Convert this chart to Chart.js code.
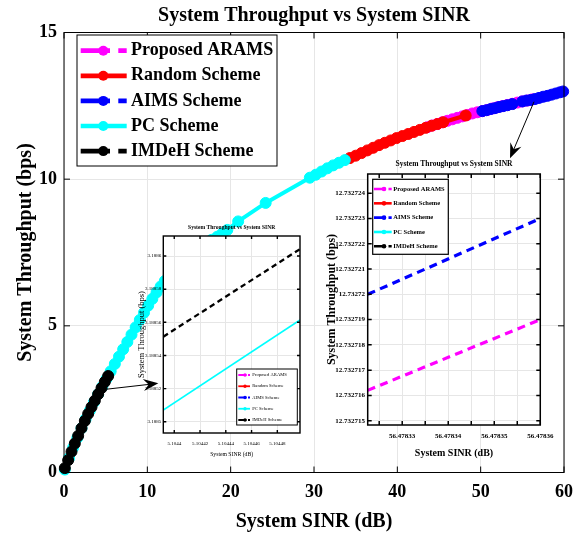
<!DOCTYPE html>
<html>
<head>
<meta charset="utf-8">
<title>System Throughput vs System SINR</title>
<script src="https://cdn.jsdelivr.net/npm/chart.js@4.4.1/dist/chart.umd.min.js"></script>
<style>
  html, body { margin: 0; padding: 0; background: #fff; }
  #wrap { position: relative; width: 582px; height: 538px; overflow: hidden; }
  #wrap canvas { position: absolute; }
</style>
</head>
<body>
<div id="wrap">
  <canvas id="main" width="582" height="538" style="left:0;top:0"></canvas>
  <canvas id="zoomLow" width="178" height="244" style="left:132px;top:219px"></canvas>
  <canvas id="zoomHigh" width="242" height="309" style="left:318px;top:154px"></canvas>
</div>
<script>
// ---------- full-range curves (SINR in dB, throughput in bps) ----------
const aramsSinr  = [43.6, 44.2, 44.8, 45.4, 46.0, 46.6, 47.2, 47.8, 48.4, 49.0, 49.6, 50.2, 50.8, 51.4, 52.0, 52.6, 53.2, 53.8, 54.4, 55.0, 55.6, 56.2];
const aramsTput  = [11.77, 11.83, 11.88, 11.94, 11.99, 12.04, 12.09, 12.14, 12.19, 12.24, 12.28, 12.32, 12.36, 12.41, 12.45, 12.49, 12.53, 12.57, 12.61, 12.65, 12.68, 12.72];

const randomSinr = [34.3, 35.0, 35.7, 36.4, 37.1, 37.8, 38.5, 39.2, 39.9, 40.6, 41.3, 42.0, 42.7, 43.4, 44.1, 44.8, 45.5, 48.2];
const randomTput = [10.72, 10.80, 10.89, 10.98, 11.07, 11.16, 11.24, 11.32, 11.40, 11.47, 11.54, 11.61, 11.68, 11.75, 11.82, 11.88, 11.94, 12.17];

const aimsSinr   = [50.2, 50.7, 51.2, 51.7, 52.2, 52.7, 53.2, 53.8, 55.0, 55.5, 56.0, 56.5, 57.0, 57.5, 58.0, 58.5, 59.0, 59.5, 59.9];
const aimsTput   = [12.32, 12.35, 12.39, 12.42, 12.46, 12.49, 12.52, 12.56, 12.65, 12.68, 12.70, 12.73, 12.77, 12.81, 12.84, 12.88, 12.92, 12.96, 12.99];

const pcSinr     = [0.1, 0.6, 1.1, 1.6, 2.1, 2.6, 3.1, 3.6, 4.1, 4.6, 5.1, 5.6, 6.1, 6.6, 7.1, 7.6, 8.1, 8.6, 9.1, 9.6, 10.1, 10.6, 11.1, 11.6, 12.1, 12.8, 13.5, 14.2, 14.9, 15.6, 16.3, 17.0, 17.7, 18.4, 19.0, 19.6, 20.9, 24.2, 29.5, 30.2, 30.9, 31.6, 32.3, 33.0, 33.7];
const pcTput     = [0.10, 0.49, 0.85, 1.18, 1.51, 1.82, 2.11, 2.40, 2.67, 2.93, 3.19, 3.45, 3.70, 3.95, 4.20, 4.45, 4.70, 4.95, 5.20, 5.45, 5.69, 5.92, 6.14, 6.34, 6.53, 6.78, 7.01, 7.21, 7.38, 7.54, 7.68, 7.81, 7.93, 8.04, 8.15, 8.27, 8.56, 9.19, 10.05, 10.15, 10.26, 10.37, 10.47, 10.56, 10.65];

const imdehSinr  = [0.1, 0.5, 0.9, 1.3, 1.7, 2.1, 2.5, 2.9, 3.3, 3.7, 4.1, 4.5, 4.9, 5.3];
const imdehTput  = [0.15, 0.42, 0.71, 0.99, 1.25, 1.51, 1.76, 2.00, 2.23, 2.45, 2.67, 2.88, 3.09, 3.29];

const mainSinrTicks = [0, 10, 20, 30, 40, 50, 60];
const mainTputTicks = [0, 5, 10, 15];

// callout arrows on the main axes: [SINR, throughput] tail and head
const arrowTail = [[5.12, 2.84], [56.4, 12.64]];
const arrowHead = [[11.32, 3.04], [53.52, 10.71]];

// ---------- magnified view around 5.1044 dB ----------
const lowSinr       = [5.1043915, 5.1044976];
const lowPcTput     = [3.1885071, 3.1885614];
const lowImdehTput  = [3.1885513, 3.1886042];
const lowSinrTicks  = [5.10440, 5.10442, 5.10444, 5.10446, 5.10448];
const lowSinrLabels = ['5.1044', '5.10442', '5.10444', '5.10446', '5.10448'];
const lowTputTicks  = [3.18850, 3.18852, 3.18854, 3.18856, 3.18858, 3.18860];
const lowTputLabels = ['3.1885', '3.18852', '3.18854', '3.18856', '3.18858', '3.1886'];

// ---------- magnified view around 56.4783 dB ----------
const highSinr       = [56.4783225, 56.47836];
const highAramsTput  = [12.7327162, 12.7327190];
const highAimsTput   = [12.7327200, 12.7327230];
const highSinrTicks  = [56.478325, 56.47833, 56.478335, 56.47834, 56.478345, 56.47835, 56.478355, 56.47836];
const highSinrLabels = ['', '56.47833', '', '56.47834', '', '56.47835', '', '56.47836'];
const highTputTicks  = [12.732715, 12.732716, 12.732717, 12.732718, 12.732719, 12.73272, 12.732721, 12.732722, 12.732723, 12.732724];
const highTputLabels = ['12.732715', '12.732716', '12.732717', '12.732718', '12.732719', '12.73272', '12.732721', '12.732722', '12.732723', '12.732724'];

// ---------- shared styling ----------
const SERIF = "'Liberation Serif', 'Times New Roman', Times, serif";
Chart.defaults.font.family = SERIF;
Chart.defaults.color = '#000';

const COLORS = { arams: '#ff00ff', random: '#ff0000', aims: '#0000ff', pc: '#00ffff', imdeh: '#000000' };
const TITLE = 'System Throughput vs System SINR';

const pts = (xs, ys) => xs.map((x, i) => ({ x, y: ys[i] }));

// white plot box, black frame and inward tick marks
function plotFrame(tickLen, frameW) {
  return {
    id: 'plotFrame',
    beforeDraw(chart) {
      const { ctx, chartArea: a } = chart;
      ctx.save();
      ctx.fillStyle = '#fff';
      ctx.fillRect(a.left, a.top, a.right - a.left, a.bottom - a.top);
      ctx.restore();
    },
    afterDatasetsDraw(chart) {
      const { ctx, chartArea: a, scales: { x, y } } = chart;
      ctx.save();
      ctx.strokeStyle = '#000';
      ctx.lineWidth = frameW;
      ctx.beginPath();
      x.ticks.forEach(t => {
        const p = x.getPixelForValue(t.value);
        ctx.moveTo(p, a.bottom); ctx.lineTo(p, a.bottom - tickLen);
        ctx.moveTo(p, a.top); ctx.lineTo(p, a.top + tickLen);
      });
      y.ticks.forEach(t => {
        const p = y.getPixelForValue(t.value);
        ctx.moveTo(a.left, p); ctx.lineTo(a.left + tickLen, p);
        ctx.moveTo(a.right, p); ctx.lineTo(a.right - tickLen, p);
      });
      ctx.stroke();
      ctx.strokeRect(a.left, a.top, a.right - a.left, a.bottom - a.top);
      ctx.restore();
    }
  };
}

// boxed legend listing every dataset with its line sample and marker
function boxLegend(cfg) {
  return {
    id: 'boxLegend',
    afterDraw(chart) {
      const c = chart.ctx;
      c.save();
      c.fillStyle = '#fff';
      c.fillRect(cfg.x, cfg.y, cfg.w, cfg.h);
      c.strokeStyle = '#000';
      c.lineWidth = cfg.frame;
      c.strokeRect(cfg.x, cfg.y, cfg.w, cfg.h);
      chart.data.datasets.forEach((ds, i) => {
        const yy = cfg.row0 + i * cfg.rowGap;
        c.strokeStyle = ds.borderColor;
        c.lineWidth = cfg.lineW;
        c.lineCap = 'butt';
        c.beginPath();
        if (ds.borderDash && ds.borderDash.length) {
          c.moveTo(cfg.s0, yy); c.lineTo(cfg.d0, yy);
          c.moveTo(cfg.d1, yy); c.lineTo(cfg.s1, yy);
        } else {
          c.moveTo(cfg.s0, yy); c.lineTo(cfg.s1, yy);
        }
        c.stroke();
        c.fillStyle = ds.borderColor;
        c.beginPath();
        c.arc(cfg.mx, yy, cfg.r, 0, Math.PI * 2);
        c.fill();
        c.fillStyle = '#000';
        c.font = cfg.font;
        c.textAlign = 'left';
        c.textBaseline = 'middle';
        c.fillText(ds.label, cfg.tx, yy);
      });
      c.restore();
    }
  };
}

// arrows pointing from the curve towards the magnified views
const calloutArrows = {
  id: 'calloutArrows',
  afterDraw(chart) {
    const { ctx, scales: { x, y } } = chart;
    ctx.save();
    ctx.strokeStyle = '#000';
    ctx.fillStyle = '#000';
    ctx.lineWidth = 1;
    arrowTail.forEach((t, i) => {
      const h = arrowHead[i];
      const x0 = x.getPixelForValue(t[0]), y0 = y.getPixelForValue(t[1]);
      const x1 = x.getPixelForValue(h[0]), y1 = y.getPixelForValue(h[1]);
      const len = Math.hypot(x1 - x0, y1 - y0);
      const ux = (x1 - x0) / len, uy = (y1 - y0) / len;
      const nx = -uy, ny = ux;
      const L = 15, W = 6;
      ctx.beginPath();
      ctx.moveTo(x0, y0);
      ctx.lineTo(x1 - ux * L * 0.6, y1 - uy * L * 0.6);
      ctx.stroke();
      ctx.beginPath();
      ctx.moveTo(x1, y1);
      ctx.lineTo(x1 - ux * L + nx * W, y1 - uy * L + ny * W);
      ctx.lineTo(x1 - ux * L * 0.65, y1 - uy * L * 0.65);
      ctx.lineTo(x1 - ux * L - nx * W, y1 - uy * L - ny * W);
      ctx.closePath();
      ctx.fill();
    });
    ctx.restore();
  }
};

function linearAxis(o) {
  return {
    type: 'linear',
    min: o.min,
    max: o.max,
    afterBuildTicks: s => { s.ticks = o.ticks.map(v => ({ value: v })); },
    ticks: {
      autoSkip: false,
      maxRotation: 0,
      padding: o.tickPad,
      font: { size: o.tickSize, weight: o.weight },
      callback: (v, i) => o.labels[i]
    },
    grid: { color: '#e6e6e6', lineWidth: 1, drawTicks: false },
    border: { display: false },
    title: {
      display: true,
      text: o.title,
      font: { size: o.titleSize, weight: o.titleWeight || o.weight },
      padding: o.titlePad
    },
    afterFit: o.fit
  };
}

// ---------- main figure ----------
function mainSeries(label, xs, ys, color, dashed, order) {
  return {
    label, data: pts(xs, ys), order,
    showLine: true, borderColor: color, backgroundColor: color,
    borderWidth: 4, borderDash: dashed ? [10, 6] : [],
    pointRadius: 5.5, pointBorderWidth: 1,
    pointBackgroundColor: color, pointBorderColor: color,
    tension: 0, clip: false
  };
}

new Chart(document.getElementById('main'), {
  type: 'scatter',
  data: {
    datasets: [
      mainSeries('Proposed ARAMS', aramsSinr, aramsTput, COLORS.arams, true, 5),
      mainSeries('Random Scheme', randomSinr, randomTput, COLORS.random, false, 4),
      mainSeries('AIMS Scheme', aimsSinr, aimsTput, COLORS.aims, true, 3),
      mainSeries('PC Scheme', pcSinr, pcTput, COLORS.pc, false, 2),
      mainSeries('IMDeH Scheme', imdehSinr, imdehTput, COLORS.imdeh, true, 1)
    ]
  },
  options: {
    responsive: false, animation: false, devicePixelRatio: 1,
    layout: { padding: { left: 0, right: 18, top: 0, bottom: 0 } },
    plugins: {
      legend: { display: false },
      tooltip: { enabled: false },
      title: {
        display: true, text: TITLE, fullSize: false,
        font: { size: 20, weight: 'bold' },
        padding: { top: 4, bottom: 4.5 }
      }
    },
    scales: {
      x: linearAxis({
        min: 0, max: 60, ticks: mainSinrTicks, labels: mainSinrTicks.map(String),
        tickPad: 9, tickSize: 18, weight: 'bold',
        title: 'System SINR (dB)', titleSize: 20, titlePad: { top: 0, bottom: 4.4 },
        fit: s => { s.height = 65.5; }
      }),
      y: linearAxis({
        min: 0, max: 15, ticks: mainTputTicks, labels: mainTputTicks.map(String),
        tickPad: 7, tickSize: 18, weight: 'bold',
        title: 'System Throughput (bps)', titleSize: 20, titlePad: { top: 13.4, bottom: 0 },
        fit: s => { s.width = 64; }
      })
    }
  },
  plugins: [
    plotFrame(6, 1),
    calloutArrows,
    boxLegend({
      x: 77, y: 35, w: 200, h: 131, frame: 1,
      row0: 50.7, rowGap: 25.1,
      s0: 80.7, s1: 126.7, d0: 110, d1: 118.3, mx: 103.3, r: 5,
      lineW: 4.7, tx: 131, font: "bold 18px " + SERIF
    })
  ]
});

// ---------- magnified views ----------
function zoomSeries(label, xs, ys, color, dash, width) {
  return {
    label, data: pts(xs, ys),
    showLine: true, borderColor: color, backgroundColor: color,
    borderWidth: width, borderDash: dash, pointRadius: 0, tension: 0
  };
}

function zoomOptions(o) {
  return {
    responsive: false, animation: false, devicePixelRatio: 1,
    layout: { padding: { left: 0, right: o.padRight, top: 0, bottom: 0 } },
    plugins: {
      legend: { display: false },
      tooltip: { enabled: false },
      title: {
        display: true, text: TITLE, fullSize: false,
        font: { size: o.titleSize, weight: 'bold' },
        padding: o.titlePad
      }
    },
    scales: { x: linearAxis(o.x), y: linearAxis(o.y) }
  };
}

new Chart(document.getElementById('zoomLow'), {
  type: 'scatter',
  data: {
    datasets: [
      zoomSeries('Proposed ARAMS', [], [], COLORS.arams, [5, 3.5], 2.3),
      zoomSeries('Random Scheme', [], [], COLORS.random, [], 2.3),
      zoomSeries('AIMS Scheme', [], [], COLORS.aims, [5, 3.5], 2.3),
      zoomSeries('PC Scheme', lowSinr, lowPcTput, COLORS.pc, [], 1.6),
      zoomSeries('IMDeH Scheme', lowSinr, lowImdehTput, COLORS.imdeh, [5.5, 3.7], 2.3)
    ]
  },
  options: zoomOptions({
    padRight: 10, titleSize: 5.6, titlePad: { top: 5.64, bottom: 4.64 },
    x: {
      min: lowSinr[0], max: lowSinr[1], ticks: lowSinrTicks, labels: lowSinrLabels,
      tickPad: 7.3, tickSize: 5, weight: 'normal',
      title: 'System SINR (dB)', titleSize: 5.7, titlePad: { top: 0, bottom: 5.3 },
      fit: s => { s.height = 30; }
    },
    y: {
      min: 3.1884932, max: 3.1886121, ticks: lowTputTicks, labels: lowTputLabels,
      tickPad: 2, tickSize: 5, weight: 'normal',
      title: 'System Throughput (bps)', titleSize: 8.5, titlePad: { top: 4.9, bottom: 0 },
      fit: s => { s.width = 31.3; }
    }
  }),
  plugins: [
    plotFrame(3, 1.4),
    boxLegend({
      x: 104.7, y: 150, w: 60.6, h: 56, frame: 1,
      row0: 156, rowGap: 11.25,
      s0: 106.3, s1: 118, d0: 114.5, d1: 116, mx: 113, r: 1.7,
      lineW: 1.8, tx: 120.3, font: "4.6px " + SERIF
    })
  ]
});

new Chart(document.getElementById('zoomHigh'), {
  type: 'scatter',
  data: {
    datasets: [
      zoomSeries('Proposed ARAMS', highSinr, highAramsTput, COLORS.arams, [8, 5.5], 3.2),
      zoomSeries('Random Scheme', [], [], COLORS.random, [], 3.2),
      zoomSeries('AIMS Scheme', highSinr, highAimsTput, COLORS.aims, [8, 5.5], 3.2),
      zoomSeries('PC Scheme', [], [], COLORS.pc, [], 3.2),
      zoomSeries('IMDeH Scheme', [], [], COLORS.imdeh, [8, 5.5], 3.2)
    ]
  },
  options: zoomOptions({
    padRight: 17.7, titleSize: 7.5, titlePad: { top: 5.5, bottom: 5.5 },
    x: {
      min: highSinr[0], max: highSinr[1], ticks: highSinrTicks, labels: highSinrLabels,
      tickPad: 6.6, tickSize: 7, weight: 'bold',
      title: 'System SINR (dB)', titleSize: 10, titlePad: { top: 0, bottom: 3.7 },
      fit: s => { s.height = 38; }
    },
    y: {
      min: 12.73271483, max: 12.73272476, ticks: highTputTicks, labels: highTputLabels,
      tickPad: 2.7, tickSize: 7, weight: 'bold',
      title: 'System Throughput (bps)', titleSize: 12, titlePad: { top: 6.8, bottom: 0 },
      fit: s => { s.width = 49.7; }
    }
  }),
  plugins: [
    plotFrame(4, 1.5),
    boxLegend({
      x: 54.7, y: 25.3, w: 75.6, h: 75, frame: 1.2,
      row0: 35, rowGap: 14.33,
      s0: 56, s1: 73.7, d0: 68, d1: 70.5, mx: 66, r: 2.3,
      lineW: 2.6, tx: 75.3, font: "bold 6.5px " + SERIF
    })
  ]
});
</script>
</body>
</html>
